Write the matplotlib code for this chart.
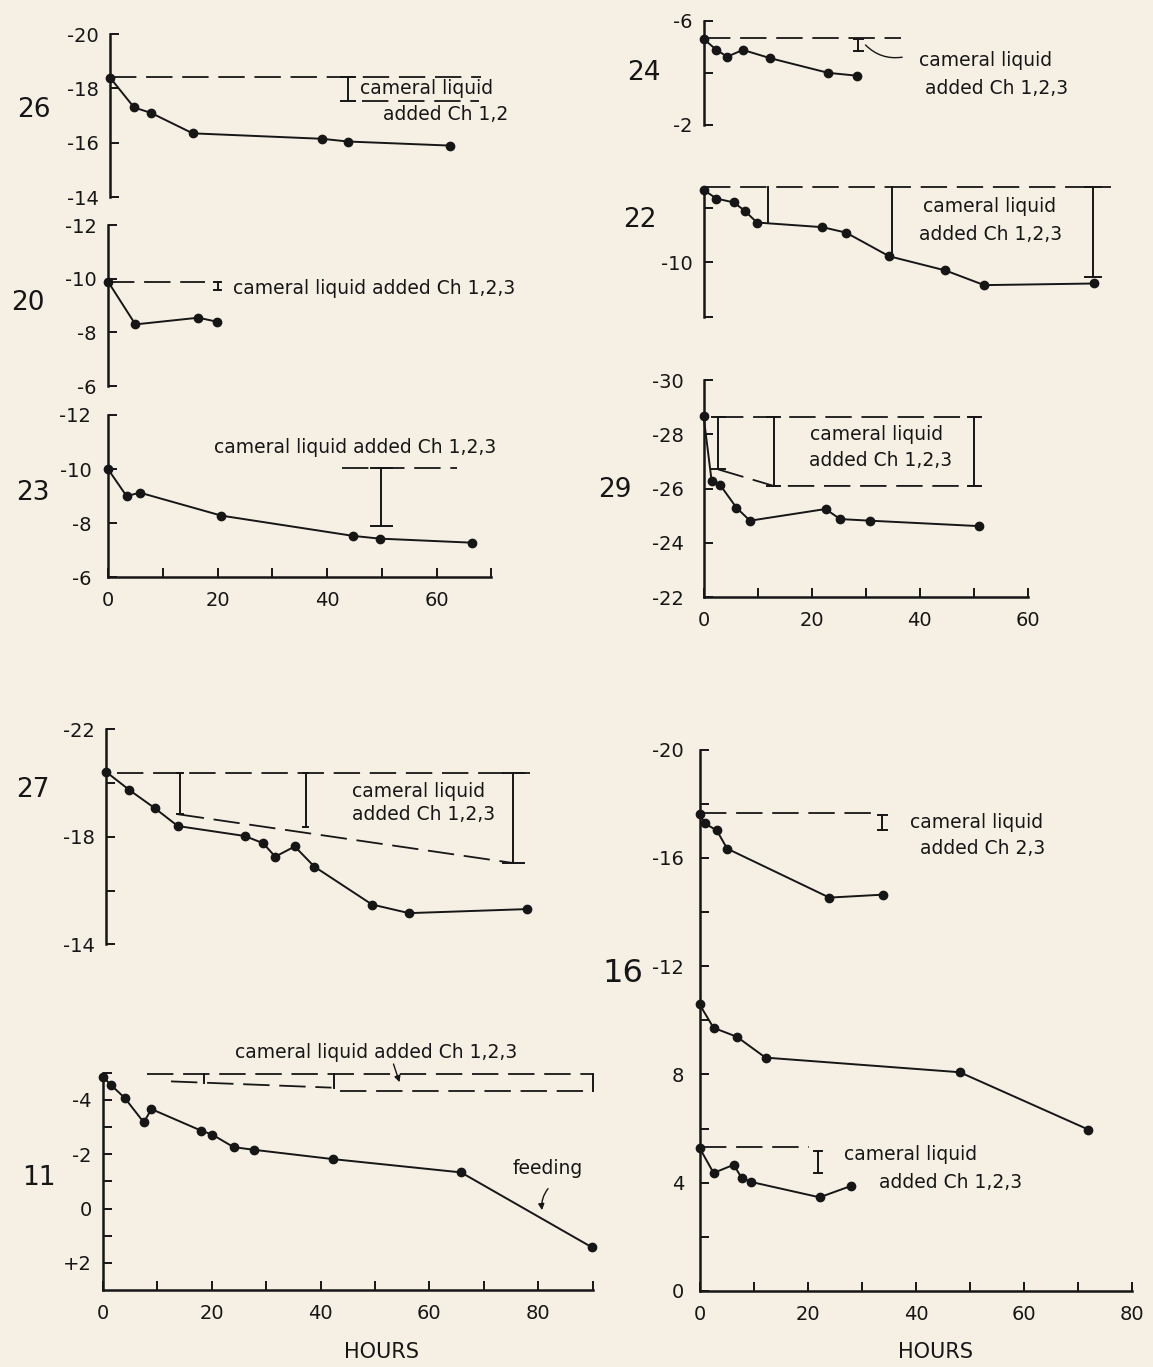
import matplotlib.pyplot as plt

W, H = 1153, 1367
BG = '#f6f0e4'
INK = '#161616'

plt.rcParams['font.family'] = ['DejaVu Sans']
plt.rcParams['lines.scale_dashes'] = False

# ---- values: hours, reading ----
h26 = [0, 4.4, 7.5, 15.1, 38.7, 43.4, 62.1]
v26 = [-18.4, -17.3, -17.1, -16.35, -16.15, -16.05, -15.9]

h20 = [0, 5.0, 16.5, 19.9]
v20 = [-9.9, -8.3, -8.55, -8.4]

h23 = [0, 3.4, 5.8, 20.7, 44.8, 49.6, 66.4]
v23 = [-10.0, -9.0, -9.13, -8.28, -7.53, -7.43, -7.28]

h24 = [0, 2.3, 4.3, 7.2, 12.3, 23.0, 28.4]
v24 = [-5.29, -4.88, -4.62, -4.88, -4.56, -4.0, -3.89]

h22 = [0, 2.3, 5.5, 7.5, 9.8, 21.9, 26.3, 34.3, 44.7, 51.9, 72.3]
v22 = [-12.65, -12.34, -12.2, -11.9, -11.46, -11.29, -11.09, -10.22, -9.7, -9.16, -9.22]

h29 = [0, 1.5, 3.1, 6.1, 8.6, 22.6, 25.3, 30.9, 51.1]
v29 = [-28.69, -26.29, -26.13, -25.3, -24.82, -25.25, -24.88, -24.82, -24.62]

h27 = [0, 4.3, 9.0, 13.2, 25.5, 28.9, 31.1, 34.7, 38.3, 48.9, 55.7, 77.4]
v27 = [-20.42, -19.74, -19.06, -18.4, -18.03, -17.76, -17.26, -17.64, -16.89, -15.48, -15.16, -15.31]

h11 = [0, 1.45, 4.0, 7.5, 8.9, 18.0, 20.1, 24.0, 27.8, 42.2, 65.8, 89.9]
v11 = [-4.85, -4.55, -4.07, -3.17, -3.66, -2.87, -2.72, -2.26, -2.16, -1.82, -1.33, 1.43]

# panel 16 has three runs
h16a = [0, 1.0, 3.2, 5.1, 24.0, 34.0]
v16a = [-17.61, -17.27, -17.01, -16.34, -14.53, -14.64]
h16b = [0, 2.6, 6.9, 12.2, 48.1, 71.9]
v16b = [-10.59, -9.72, -9.39, -8.62, -8.08, -5.96]
h16c = [0, 2.6, 6.3, 7.8, 9.5, 22.2, 28.0]
v16c = [-5.29, -4.36, -4.66, -4.18, -4.03, -3.46, -3.88]

# "cameral liquid added" marks: dashed levels (hours, values) and bars (hour, top, bottom)
d26 = [([0, 67.7], [-18.42, -18.42]), ([46, 67.3], [-17.55, -17.55])]
bar26 = [(43.4, -18.42, -17.54)]
d20 = [([0, 17.7], [-9.88, -9.88])]
bar20 = [(20, -9.88, -9.6)]
d23 = [([42.7, 63.7], [-10.03, -10.03])]
bar23 = [(49.9, -10.03, -7.9)]
d24 = [([0, 36.4], [-5.33, -5.33])]
bar24 = [(28.6, -5.29, -4.85)]
lead24 = ((36.7, -4.60), (29.9, -5.07))
d22 = [([0, 75.3], [-12.75, -12.75])]
bar22 = [(11.9, -12.75, -11.46), (34.8, -12.75, -10.22)]
bar22_end = [(72.1, -12.75, -9.47)]
d29 = [([2.5, 51.2], [-28.63, -28.63]), ([2.7, 13, 51.2], [-26.71, -26.1, -26.1])]
bar29 = [(2.7, -28.63, -26.71), (13, -28.63, -26.1), (50.1, -28.63, -26.1)]
d27 = [([2, 78], [-20.39, -20.39]), ([13.2, 75], [-18.84, -17.02])]
bar27 = [(13.6, -20.39, -18.84), (36.7, -20.39, -18.35)]
bar27_end = [(74.9, -20.39, -17.04)]
d11 = [([8, 90], [-4.97, -4.97]), ([12.5, 42], [-4.68, -4.45]), ([43.5, 90], [-4.33, -4.33])]
bar11 = [(18.5, -4.97, -4.62), (42.5, -4.97, -4.42), (90, -4.97, -4.33)]
d16 = [([0, 32], [-17.64, -17.64]), ([0, 20.2], [-5.33, -5.33])]
bar16 = [(33.8, -17.57, -17.04), (21.9, -5.18, -4.36)]

fig = plt.figure(figsize=(W / 100, H / 100), dpi=100, facecolor=BG)


def panel(spine_x, k, xmax, y_top, y_bot, v_top, v_bot, xaxis=False):
    # axes box placed in pixels so that 1 hour = k px
    ax = fig.add_axes([spine_x / W, 1 - y_bot / H, k * xmax / W, (y_bot - y_top) / H])
    ax.set_xlim(0, xmax)
    ax.set_ylim(v_bot, v_top)
    ax.patch.set_visible(False)
    ax.spines[['top', 'right']].set_visible(False)
    for s in ('left', 'bottom'):
        ax.spines[s].set_linewidth(1.8)
        ax.spines[s].set_color(INK)
    ax.spines['bottom'].set_visible(xaxis)
    ax.tick_params(direction='in', length=6.5, width=1.4, colors=INK,
                   labelsize=14, pad=8)
    ax.tick_params(axis='x', pad=10)
    if not xaxis:
        ax.set_xticks([])
    return ax


def series(ax, h, v):
    ax.plot(h, v, '-o', color=INK, lw=1.4, ms=6, clip_on=False, zorder=3)


def dashed(ax, segs):
    for x, y in segs:
        ax.plot(x, y, color=INK, lw=1.3, dashes=(19, 7), clip_on=False)


def bars(ax, items, cap):
    for x, top, bot in items:
        ax.plot([x, x], [top, bot], color=INK, lw=1.4, clip_on=False)
        if cap:
            for y in (top, bot):
                ax.plot([x - cap, x + cap], [y, y], color=INK, lw=1.4, clip_on=False)


def label(x, y, s, size=13.5, ha='center'):
    fig.text(x / W, 1 - y / H, s, ha=ha, va='center', fontsize=size, color=INK)


# ---------- left column ----------
ax = panel(110, 5.477, 80, 34, 197.3, -20, -14)
ax.set_yticks([-20, -18, -16, -14], ['-20', '-18', '-16', '-14'])
series(ax, h26, v26)
dashed(ax, d26)
bars(ax, bar26, 1.3)

ax = panel(108, 5.477, 80, 225.3, 386, -12, -6)
ax.set_yticks([-12, -10, -8, -6], ['-12', '-10', '-8', '-6'])
series(ax, h20, v20)
dashed(ax, d20)
bars(ax, bar20, 0.6)

ax = panel(108, 5.477, 70, 415, 577.3, -12, -6, xaxis=True)
ax.set_yticks([-12, -10, -8, -6], ['-12', '-10', '-8', '-6'])
ax.set_xticks(range(0, 71, 10), ['0', '', '20', '', '40', '', '60', ''])
ax.tick_params(axis='y', pad=12)
series(ax, h23, v23)
dashed(ax, d23)
bars(ax, bar23, 1.9)

ax = panel(106, 5.44, 80, 729.3, 944.3, -22, -14)
ax.set_yticks([-22, -20, -18, -16, -14], ['-22', '', '-18', '', '-14'])
series(ax, h27, v27)
dashed(ax, d27)
bars(ax, bar27, 0.5)
bars(ax, bar27_end, 2.0)

ax = panel(103, 5.44, 90, 1072.7, 1290, -5, 3, xaxis=True)
ax.set_yticks(range(-5, 3), ['', '-4', '', '-2', '', '0', '', '+2'])
ax.set_xticks(range(0, 91, 10), ['0', '', '20', '', '40', '', '60', '', '80', ''])
series(ax, h11, v11)
dashed(ax, d11)
bars(ax, bar11, 0)
ax.annotate('', xy=(54.5, -4.65), xytext=(53.4, -5.32), annotation_clip=False,
            arrowprops=dict(arrowstyle='-|>', color=INK, lw=1.0,
                            mutation_scale=9, shrinkA=0, shrinkB=0))
ax.annotate('', xy=(80.7, 0.06), xytext=(81.8, -0.73), annotation_clip=False,
            arrowprops=dict(arrowstyle='-|>', color=INK, lw=1.0,
                            mutation_scale=9, shrinkA=0, shrinkB=0,
                            connectionstyle='arc3,rad=0.2'))

# ---------- right column ----------
ax = panel(704, 5.40, 80, 20.7, 125, -6, -2)
ax.set_yticks([-6, -4, -2], ['-6', '', '-2'])
series(ax, h24, v24)
dashed(ax, d24)
bars(ax, bar24, 0.8)
ax.annotate('', xy=lead24[1], xytext=lead24[0], annotation_clip=False,
            arrowprops=dict(arrowstyle='-', color=INK, lw=1.0,
                            shrinkA=0, shrinkB=0, connectionstyle='arc3,rad=-0.25'))

ax = panel(704, 5.40, 80, 191.5, 316.7, -12.6, -8)
ax.set_yticks([-12, -10, -8], ['', '-10', ''])
series(ax, h22, v22)
dashed(ax, d22)
bars(ax, bar22, 0)
bars(ax, bar22_end, 1.5)

ax = panel(703.5, 5.40, 60, 380, 597.3, -30, -22, xaxis=True)
ax.set_yticks(range(-30, -21, 2), ['-30', '-28', '-26', '-24', '-22'])
ax.set_xticks(range(0, 61, 10), ['0', '', '20', '', '40', '', '60'])
ax.tick_params(axis='y', pad=14)
series(ax, h29, v29)
dashed(ax, d29)
bars(ax, bar29, 1.2)

ax = panel(699.5, 5.41, 80, 749.5, 1291, -20, 0, xaxis=True)
ax.set_yticks(range(-20, 1, 2), ['-20', '', '-16', '', '-12', '', '8', '', '4', '', '0'])
ax.set_xticks(range(0, 81, 10), ['0', '', '20', '', '40', '', '60', '', '80'])
ax.tick_params(axis='y', pad=11)
series(ax, h16a, v16a)
series(ax, h16b, v16b)
series(ax, h16c, v16c)
dashed(ax, d16)
bars(ax, bar16, 0.8)

# panel numbers
for x, y, s in [(34, 110, '26'), (28, 303, '20'), (33, 493, '23'), (33, 790, '27'),
                (39, 1178, '11'), (644, 73, '24'), (640, 220, '22'), (615, 490, '29')]:
    label(x, y, s, size=19)
label(623, 974, '16', size=23)

# annotations
label(427, 89, 'cameral liquid')
label(446, 115, 'added Ch 1,2')
label(233, 289, 'cameral liquid added Ch 1,2,3', ha='left')
label(355, 448, 'cameral liquid added Ch 1,2,3')
label(986, 61, 'cameral liquid')
label(997, 88, 'added Ch 1,2,3')
label(990, 207, 'cameral liquid')
label(991, 235, 'added Ch 1,2,3')
label(877, 435, 'cameral liquid')
label(881, 461, 'added Ch 1,2,3')
label(419, 792, 'cameral liquid')
label(424, 815, 'added Ch 1,2,3')
label(376, 1052, 'cameral liquid added Ch 1,2,3')
label(548, 1168, 'feeding')
label(977, 823, 'cameral liquid')
label(983, 849, 'added Ch 2,3')
label(911, 1155, 'cameral liquid')
label(951, 1182, 'added Ch 1,2,3')
label(381, 1352, 'HOURS', size=15)
label(935, 1352, 'HOURS', size=15)

fig.savefig('out.png', dpi=100, facecolor=BG)
